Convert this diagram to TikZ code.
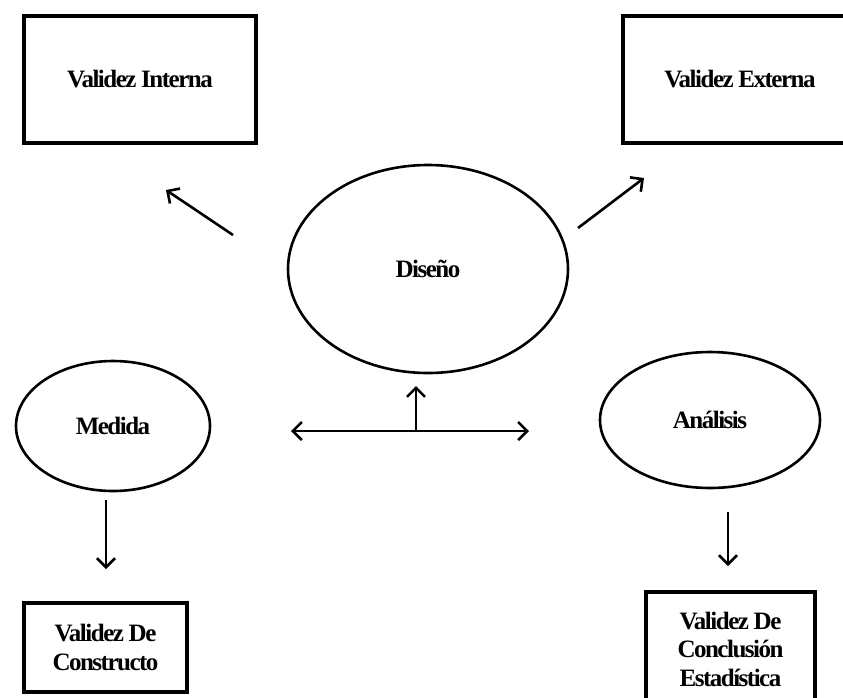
\documentclass[tikz,border=0pt]{standalone}
\usepackage{fontspec}
\setmainfont{Liberation Serif}[LetterSpace=-6]
\usetikzlibrary{shapes.geometric,arrows.meta}
\begin{document}
\begin{tikzpicture}[x=1pt,y=-1pt,
  lbl/.style={font=\fontsize{25}{28.5}\selectfont\bfseries, align=center},
  boxnode/.style={draw, line width=3.2pt, rectangle, inner sep=0pt, lbl},
  ovalnode/.style={draw, line width=2.6pt, ellipse, inner sep=0pt, lbl},
  tip/.style={},
  conn/.style={line width=2.6pt, -{Straight Barb[length=9pt,width=18pt,line width=2.6pt]}},
  conn2/.style={line width=2.6pt, {Straight Barb[length=9pt,width=18pt,line width=2.6pt]}-{Straight Barb[length=9pt,width=18pt,line width=2.6pt]}}]
\useasboundingbox (0,0) rectangle (843,697);
\clip (0,0) rectangle (843,697);
\fill[white] (0,0) rectangle (843,697);

\node[boxnode, minimum width=232pt, minimum height=127pt] (vi) at (140,79.5) {Validez Interna};
\node[boxnode, minimum width=234pt, minimum height=127pt] (ve) at (740,79.5) {Validez Externa};
\node[boxnode, minimum width=163pt, minimum height=89pt] (vc) at (105.5,647.5) {Validez De\\Constructo};
\node[boxnode, minimum width=169pt, minimum height=114pt] (vce) at (730.5,649) {Validez De\\Conclusión\\Estadística};

\node[ovalnode, minimum width=280pt, minimum height=208pt] (dis) at (428,269) {Diseño};
\node[ovalnode, minimum width=194pt, minimum height=130pt] (med) at (113,426) {Medida};
\node[ovalnode, minimum width=220pt, minimum height=136pt] (ana) at (710,420) {Análisis};

\coordinate (nwa) at (233,235);
\coordinate (nwb) at (166,190);
\coordinate (nea) at (578,228);
\coordinate (neb) at (644,178);
\coordinate (upa) at (416,430);
\coordinate (upb) at (416,386);
\coordinate (hl) at (291,431);
\coordinate (hr) at (529,431);
\coordinate (mda) at (106,500);
\coordinate (mdb) at (106,569);
\coordinate (ada) at (728,512);
\coordinate (adb) at (728,566);

\draw[conn] (nwa) -- (nwb);
\draw[conn] (nea) -- (neb);
\draw[conn] (upa) -- (upb);
\draw[conn2] (hl) -- (hr);
\draw[conn] (mda) -- (mdb);
\draw[conn] (ada) -- (adb);
\end{tikzpicture}
\end{document}
